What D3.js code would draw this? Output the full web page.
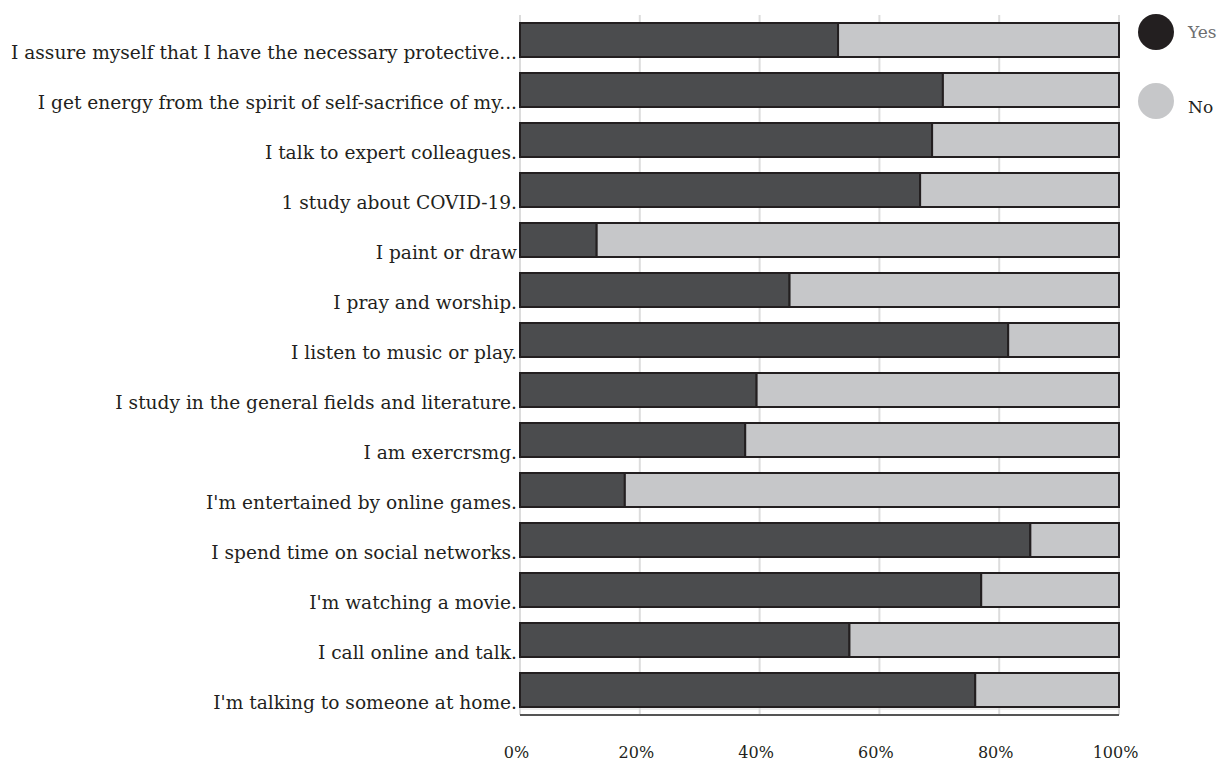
<!DOCTYPE html>
<html>
<head>
<meta charset="utf-8">
<script src="https://cdn.jsdelivr.net/npm/d3@7"></script>
<style>
  body { margin: 0; background: #fff; }
  text { font-family: 'DejaVu Serif', 'Liberation Serif', serif; }
</style>
</head>
<body>
<svg id="chart" width="1221" height="762"></svg>
<script>
  'use strict'

  var categories = [
    'I assure myself that I have the necessary protective...',
    'I get energy from the spirit of self-sacrifice of my...',
    'I talk to expert colleagues.',
    '1 study about COVID-19.',
    'I paint or draw',
    'I pray and worship.',
    'I listen to music or play.',
    'I study in the general fields and literature.',
    'I am exercrsmg.',
    "I'm entertained by online games.",
    'I spend time on social networks.',
    "I'm watching a movie.",
    'I call online and talk.',
    "I'm talking to someone at home."
  ]
  var yesValues = [53.1, 70.6, 68.8, 66.8, 12.8, 45.0, 81.5, 39.5, 37.6, 17.5, 85.2, 77.0, 55.0, 76.0]
  var noValues = yesValues.map(function (v) { return 100 - v })
  var seriesNames = ['Yes', 'No']
  var seriesColors = ['#4b4c4e', '#c6c7c9']
  var legendColors = ['#231f20', '#c6c7c9']
  var tickValues = [0, 20, 40, 60, 80, 100]

  var margin = { top: 15, left: 520, right: 102, bottom: 47 }
  var width = 1221
  var height = 762

  var svg = d3.select('#chart')

  var x = d3.scaleLinear()
    .domain([0, 100])
    .range([margin.left, width - margin.right])

  var y = d3.scaleBand()
    .domain(categories)
    .range([margin.top, height - margin.bottom])
    .paddingInner(0.32)
    .paddingOuter(0.16)

  // grid lines
  svg.append('g')
    .selectAll('line')
    .data(tickValues)
    .enter()
    .append('line')
    .attr('x1', function (d) { return x(d) })
    .attr('x2', function (d) { return x(d) })
    .attr('y1', margin.top)
    .attr('y2', height - margin.bottom)
    .style('stroke', '#dcdcdc')
    .style('stroke-width', 2)

  // thin light line under the last bar, then the axis base line
  svg.append('line')
    .attr('x1', x(0))
    .attr('x2', x(100))
    .attr('y1', height - margin.bottom - 6)
    .attr('y2', height - margin.bottom - 6)
    .style('stroke', '#dcdcdc')
    .style('stroke-width', 1)

  svg.append('line')
    .attr('x1', x(0))
    .attr('x2', x(100))
    .attr('y1', height - margin.bottom)
    .attr('y2', height - margin.bottom)
    .style('stroke', '#555')
    .style('stroke-width', 2)

  var rows = categories.map(function (c, i) {
    return { name: c, yes: yesValues[i], no: noValues[i] }
  })

  var stack = d3.stack().keys(['yes', 'no'])(rows)

  svg.append('g')
    .selectAll('g')
    .data(stack)
    .enter()
    .append('g')
    .style('fill', function (d, i) { return seriesColors[i] })
    .selectAll('rect')
    .data(function (d) { return d })
    .enter()
    .append('rect')
    .attr('x', function (d) { return x(d[0]) })
    .attr('y', function (d) { return y(d.data.name) })
    .attr('width', function (d) { return x(d[1]) - x(d[0]) })
    .attr('height', y.bandwidth())
    .style('stroke', '#231f20')
    .style('stroke-width', 2)

  // category labels
  svg.append('g')
    .selectAll('text')
    .data(categories)
    .enter()
    .append('text')
    .attr('x', margin.left - 3)
    .attr('y', function (d) { return y(d) + y.bandwidth() + 2 })
    .attr('text-anchor', 'end')
    .style('font-size', '18.6px')
    .style('fill', '#231f20')
    .text(function (d) { return d })

  // x axis labels
  var xAxis = d3.axisBottom(x)
    .tickValues(tickValues)
    .tickSize(0)
    .tickFormat(function (d) { return d + '%' })

  var axisG = svg.append('g')
    .attr('transform', 'translate(-4,' + (height - margin.bottom) + ')')
    .call(xAxis)
  axisG.select('.domain').remove()
  axisG.selectAll('text')
    .attr('dy', 0)
    .attr('y', 43)
    .style('font-family', "'DejaVu Serif', serif")
    .style('font-size', '16px')
    .style('fill', '#231f20')

  // legend
  var legend = svg.append('g')
    .selectAll('g')
    .data(seriesNames)
    .enter()
    .append('g')
    .attr('transform', function (d, i) { return 'translate(1156,' + (32 + i * 69) + ')' })

  legend.append('circle')
    .attr('r', 18)
    .style('fill', function (d, i) { return legendColors[i] })

  legend.append('text')
    .attr('x', 32)
    .attr('y', function (d, i) { return i === 0 ? 6 : 12 })
    .style('font-size', '17px')
    .style('fill', function (d, i) { return i === 0 ? '#6d6e70' : '#231f20' })
    .text(function (d) { return d })
</script>
</body>
</html>
